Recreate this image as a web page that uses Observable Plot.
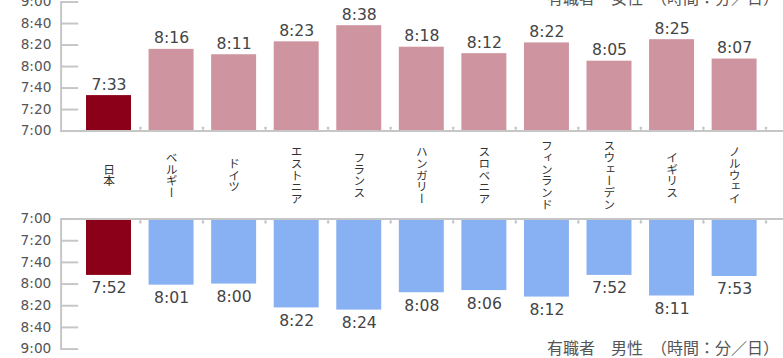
<!DOCTYPE html>
<html><head><meta charset="utf-8">
<script src="https://cdn.jsdelivr.net/npm/d3@7"></script>
<script src="https://cdn.jsdelivr.net/npm/@observablehq/plot@0.6"></script>
<style>
html,body{margin:0;padding:0;background:#fff;overflow:hidden;width:783px;height:358px}
#wrap{position:relative;width:783px;height:358px;overflow:hidden}
#top,#bottom{position:absolute;left:0}
#top{top:-18px;z-index:2}
#bottom{top:200px;z-index:1}
#top svg,#bottom svg{overflow:visible}
.cap{position:absolute;right:4px;font-family:"Noto Sans CJK JP";font-size:16px;color:#555;white-space:pre;line-height:16px;z-index:3}
#capF{top:-11px}
#capM{top:339px}
</style></head><body>
<div id="wrap"><div id="top"></div><div id="bottom"></div>
<div class="cap" id="capF"></div><div class="cap" id="capM"></div></div>
<script>
const countries = ["日本","ベルギー","ドイツ","エストニア","フランス","ハンガリー","スロベニア","フィンランド","スウェーデン","イギリス","ノルウェイ"];
const femaleTimes = ["7:33","8:16","8:11","8:23","8:38","8:18","8:12","8:22","8:05","8:25","8:07"];
const maleTimes   = ["7:52","8:01","8:00","8:22","8:24","8:08","8:06","8:12","7:52","8:11","7:53"];
const yTickLabels = ["7:00","7:20","7:40","8:00","8:20","8:40","9:00"];
const captionFemale = "有職者　女性　（時間：分／日）";
const captionMale = "有職者　男性　（時間：分／日）";
const colorJapan = "#8b0018", colorFemale = "#ce94a0", colorMale = "#88b1f3";

const toMin = s => { const [h, m] = s.split(":").map(Number); return h * 60 + m; };
const fmt = v => `${Math.floor(v / 60)}:${String(v % 60).padStart(2, "0")}`;
const ticks = yTickLabels.map(toMin);
const base = ticks[0], topV = ticks[ticks.length - 1];

const W = 801, ML = 62, MR = 0, PI = 0.28, PO = 0.39;
const step = (W - ML - MR) / (countries.length - PI + 2 * PO);
const axisGray = "#c6c6c6";

function panel(times, color, reverse, opts) {
  const data = countries.map((c, i) => ({country: c, value: toMin(times[i]), label: times[i]}));
  return Plot.plot({
    width: W, height: opts.height,
    marginLeft: ML, marginRight: MR, marginTop: opts.marginTop, marginBottom: opts.marginBottom,
    style: {fontFamily: "DejaVu Sans", background: "transparent", overflow: "visible"},
    x: {domain: countries, paddingInner: PI, paddingOuter: PO, axis: null},
    y: {domain: [base, topV], reverse, axis: null},
    marks: [
      Plot.barY(data, {x: "country", y1: () => base, y2: "value",
        fill: d => d.country === countries[0] ? colorJapan : color}),
      Plot.ruleY([base], {stroke: axisGray, strokeWidth: 2}),
      Plot.vector(countries, {x: d => d, y: () => base, length: 4, rotate: reverse ? 180 : 0,
        anchor: "start", dx: step / 2, stroke: axisGray, strokeWidth: 1.5}),
      Plot.frame({anchor: "left", stroke: axisGray, strokeWidth: 2}),
      Plot.axisY({ticks, tickSize: 18, dx: 18, fill: "none", stroke: axisGray, strokeWidth: 2, label: null}),
      Plot.axisY({ticks, tickSize: 0, tickPadding: 10, tickFormat: fmt, fill: "#555", fontSize: 14, label: null}),
      Plot.text(data, {x: "country", y: "value", text: "label",
        lineAnchor: reverse ? "top" : "bottom", dy: reverse ? 7 : -6,
        fontSize: 16, fill: "#444"}),
      ...(opts.labels ? [Plot.text(countries, {x: d => d, text: d => d, frameAnchor: "bottom",
        dy: 45, fontSize: 12, fill: "#333"})] : [])
    ]
  });
}

const topPlot = panel(femaleTimes, colorFemale, false, {height: 218, marginTop: 20, marginBottom: 66, labels: true});
topPlot.querySelectorAll("text").forEach(t => {
  if (!countries.includes(t.textContent)) return;
  t.removeAttribute("y");
  t.removeAttribute("dy");
  t.setAttribute("writing-mode", "vertical-rl");
  t.style.writingMode = "vertical-rl";
  t.setAttribute("text-anchor", "middle");
  t.style.fontFamily = '"Noto Sans CJK JP"';
});
topPlot.style.overflow = "visible";
document.getElementById("top").append(topPlot);

const bottomPlot = panel(maleTimes, colorMale, true, {height: 162, marginTop: 19, marginBottom: 10, labels: false});
document.getElementById("bottom").append(bottomPlot);

document.getElementById("capF").textContent = captionFemale;
document.getElementById("capM").textContent = captionMale;
</script>
</body></html>
